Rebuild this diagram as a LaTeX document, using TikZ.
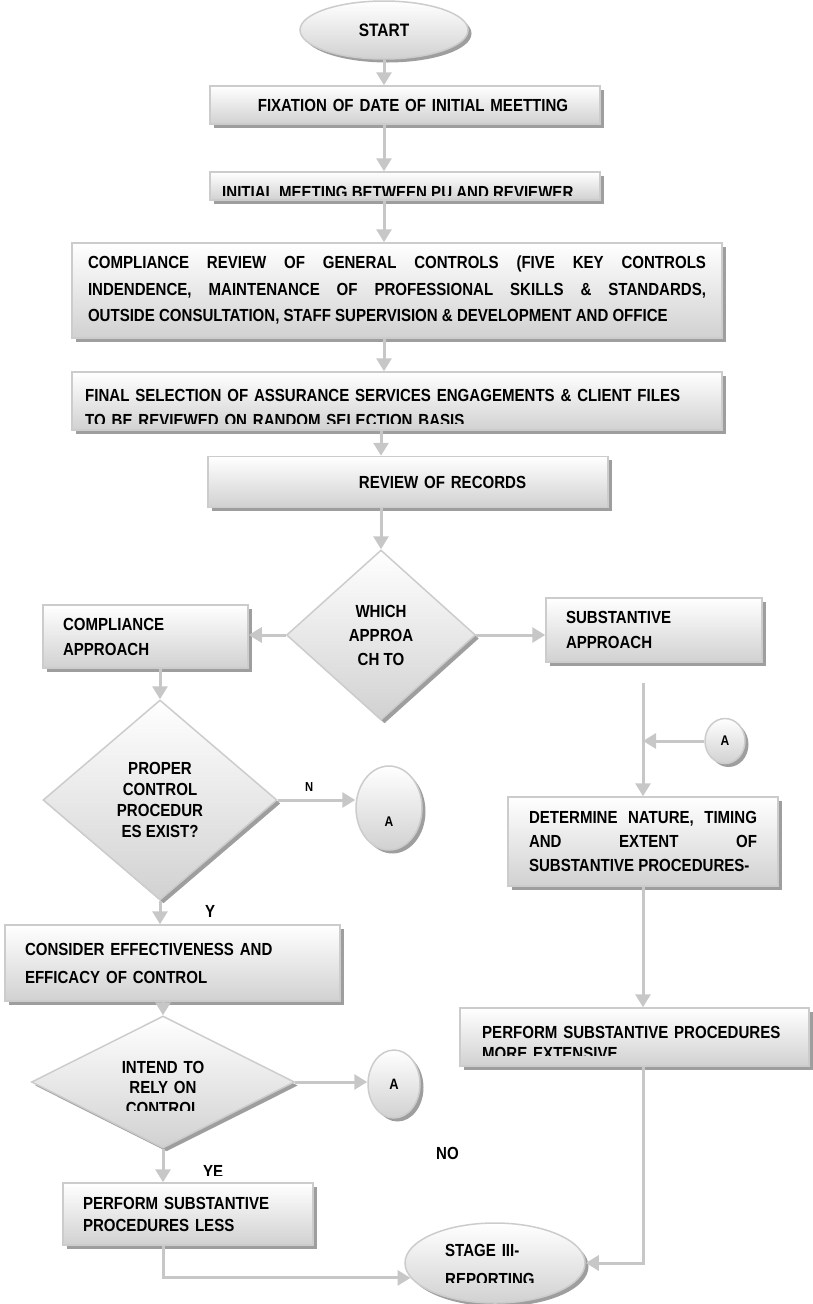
\documentclass[tikz,border=0pt]{standalone}
\usepackage{fontspec}
\setmainfont{Liberation Sans}[FakeStretch=0.86]
\usetikzlibrary{shapes.geometric, shadows, arrows.meta}

\begin{document}
\begin{tikzpicture}[x=1pt,y=-1pt,
    font=\bfseries\fontsize{17.5}{25}\selectfont,
    gfill/.style={draw=black!20, line width=1.5pt, top color=white, bottom color=black!18,
        drop shadow={shadow xshift=3.5pt,shadow yshift=-3.5pt,fill=black!38,opacity=1}},
    box/.style={gfill, rectangle, inner xsep=20pt, inner ysep=0pt, align=left},
    decision/.style={gfill, diamond, inner sep=0pt, align=center},
    terminal/.style={gfill, ellipse, inner sep=0pt, align=center},
    flow/.style={draw=black!22, line width=3pt, -{Triangle[length=13pt,width=15pt]}},
    lbl/.style={inner sep=0pt, anchor=base west, align=left}]

\useasboundingbox (0,0) rectangle (812,1304);

\node[terminal, minimum width=168pt, minimum height=58pt, font=\bfseries\fontsize{18}{20}\selectfont] (start) at (384,30) {START};
\node[box, minimum width=390pt, minimum height=38pt, text width=350pt, align=center] (fix) at (405,105) {\hspace*{16pt}FIXATION OF DATE OF INITIAL MEETTING};
\node[box, minimum width=390pt, minimum height=28pt] (meet) at (405,186) {};
\begin{scope}
\clip (200,150) rectangle (620,195);
\node[lbl] (meettxt) at (222,198) {INITIAL MEETING BETWEEN PU AND REVIEWER};
\end{scope}
\node[box, minimum width=650pt, minimum height=95pt, inner xsep=16pt, text width=618pt, align=justify, font=\bfseries\fontsize{17.5}{26.5}\selectfont] (review) at (397,290.5) {\parfillskip=0pt COMPLIANCE REVIEW OF GENERAL CONTROLS (FIVE KEY CONTROLS\linebreak INDENDENCE, MAINTENANCE OF PROFESSIONAL SKILLS \& STANDARDS,\linebreak OUTSIDE CONSULTATION, STAFF SUPERVISION \& DEVELOPMENT AND OFFICE};
\node[box, minimum width=650pt, minimum height=58pt] (select) at (397,401) {};
\begin{scope}
\clip (60,360) rectangle (740,423);
\node[lbl, text width=625pt, font=\bfseries\fontsize{17.5}{25.5}\selectfont] (selecttxt) at (85,401) {FINAL SELECTION OF ASSURANCE SERVICES ENGAGEMENTS \& CLIENT FILES\\TO BE REVIEWED ON RANDOM SELECTION BASIS};
\end{scope}
\node[box, minimum width=400pt, minimum height=51pt, text width=360pt, align=center] (records) at (408,482) {\hspace*{69pt}REVIEW OF RECORDS};

\node[decision, minimum width=189pt, minimum height=170pt, font=\bfseries\fontsize{17.5}{24}\selectfont] (which) at (381,635) {WHICH\\APPROA\\CH TO};
\node[box, minimum width=205pt, minimum height=63pt, text width=165pt] (compl) at (145.5,636.5) {COMPLIANCE\\APPROACH};
\node[box, minimum width=216pt, minimum height=64pt, text width=176pt] (subst) at (654,630) {SUBSTANTIVE\\APPROACH};
\node[terminal, minimum width=40pt, minimum height=45pt, font=\bfseries\fontsize{14}{16}\selectfont] (a3) at (725,741) {A};
\node[box, minimum width=270pt, minimum height=89pt, inner xsep=21pt, text width=228pt, align=justify, font=\bfseries\fontsize{17.5}{24}\selectfont] (determine) at (643,841.5) {\parfillskip=0pt DETERMINE NATURE, TIMING\linebreak AND EXTENT OF\linebreak SUBSTANTIVE PROCEDURES-};
\node[box, minimum width=349pt, minimum height=58pt] (more) at (634.5,1037) {};
\begin{scope}
\clip (450,1000) rectangle (812,1055);
\node[lbl, text width=320pt, font=\bfseries\fontsize{17.5}{21.5}\selectfont] (moretxt) at (482,1038) {PERFORM SUBSTANTIVE PROCEDURES\\MORE EXTENSIVE};
\end{scope}

\node[decision, minimum width=234pt, minimum height=200pt, font=\bfseries\fontsize{17.5}{21}\selectfont] (proper) at (160,800) {PROPER\\CONTROL\\PROCEDUR\\ES EXIST?};
\node[terminal, minimum width=66pt, minimum height=84pt, text height=36pt, text depth=0pt, font=\bfseries\fontsize{14}{16}\selectfont] (a1) at (389,808) {A};
\node[lbl, font=\bfseries\fontsize{13}{15}\selectfont] (nlbl) at (305,791) {N};
\node[lbl] (ylbl) at (205,917) {Y};
\node[box, minimum width=335pt, minimum height=76pt, text width=295pt, font=\bfseries\fontsize{17.5}{28}\selectfont] (consider) at (172.5,963) {CONSIDER EFFECTIVENESS AND\\EFFICACY OF CONTROL};
\node[decision, minimum width=263pt, minimum height=132pt] (intend) at (163,1082) {};
\begin{scope}
\clip (0,1000) rectangle (400,1110);
\node[lbl, anchor=base, text width=130pt, align=center, font=\bfseries\fontsize{17.5}{20.5}\selectfont] (intendtxt) at (163,1073) {INTEND TO\\RELY ON\\CONTROL};
\end{scope}
\node[terminal, minimum width=52pt, minimum height=68pt, font=\bfseries\fontsize{15}{17}\selectfont] (a2) at (394,1084) {A};
\begin{scope}
\clip (190,1150) rectangle (240,1175);
\node[lbl] (yelbl) at (203,1177.5) {YE};
\end{scope}
\node[lbl] (nolbl) at (436,1159) {NO};
\node[box, minimum width=250pt, minimum height=62pt, text width=210pt, font=\bfseries\fontsize{17.5}{22}\selectfont] (less) at (188,1214) {PERFORM SUBSTANTIVE\\PROCEDURES LESS};
\node[terminal, minimum width=180pt, minimum height=80pt] (stage) at (495,1263) {};
\begin{scope}
\clip (400,1200) rectangle (600,1282);
\node[lbl, text width=130pt, font=\bfseries\fontsize{17.5}{29.5}\selectfont] (stagetxt) at (445,1256) {STAGE III-\\REPORTING};
\end{scope}

\draw[flow] (start.south) -- (start.south |- fix.north);
\draw[flow] (start.south |- fix.south) -- (start.south |- meet.north);
\draw[flow] (start.south |- meet.south) -- (start.south |- review.north);
\draw[flow] (start.south |- review.south) -- (start.south |- select.north);
\draw[flow] (which.north |- select.south) -- (which.north |- records.north);
\draw[flow] (which.north |- records.south) -- (which.north);
\draw[flow] (which.west) -- (which.west -| compl.east);
\draw[flow] (which.east) -- (which.east -| subst.west);
\draw[flow] (proper.north |- compl.south) -- (proper.north);
\draw[flow] (proper.east) -- (proper.east -| a1.west);
\draw[flow] (proper.south) -- (proper.south |- consider.north);
\draw[flow] (intend.north |- consider.south) -- (intend.north);
\draw[flow] (intend.east) -- (intend.east -| a2.west);
\draw[flow] (intend.south) -- (intend.south |- less.north);
\draw[flow] (intend.south |- less.south) |- (stage.190);
\draw[flow, shorten <=20pt] (determine.north |- subst.south) -- (determine.north);
\draw[flow] (a3.west) -- (a3.west -| determine.north);
\draw[flow] (determine.south) -- (determine.south |- more.north);
\draw[flow] (determine.south |- more.south) |- (stage.east);
\end{tikzpicture}
\end{document}
